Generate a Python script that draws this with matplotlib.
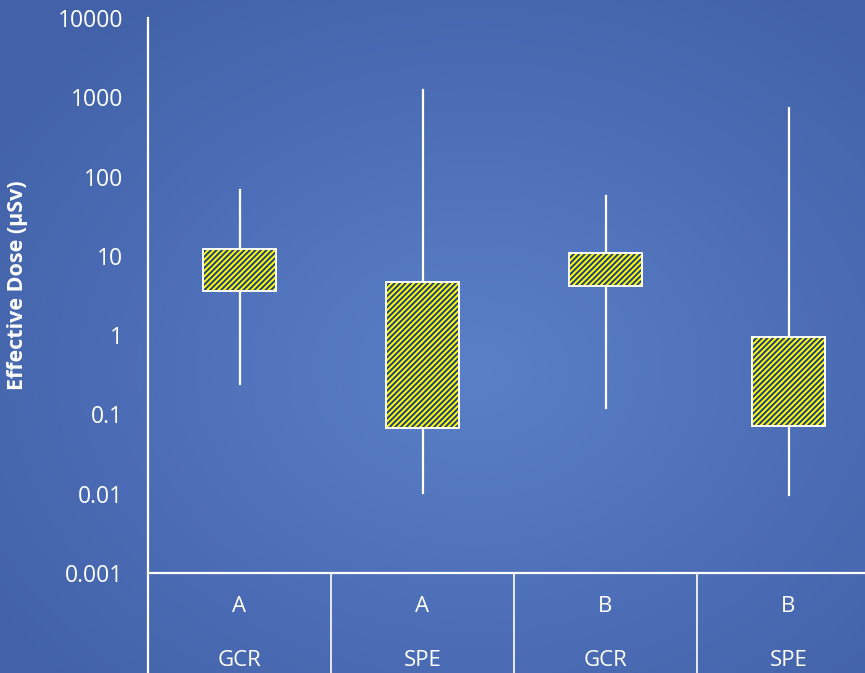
import numpy as np
import matplotlib.pyplot as plt

# data
groups = ['A', 'A', 'B', 'B']
sources = ['GCR', 'SPE', 'GCR', 'SPE']
whisker_low = [0.24, 0.0102, 0.121, 0.0097]
box_low = [3.6, 0.068, 4.17, 0.0716]
box_high = [12.2, 4.7, 10.9, 0.95]
whisker_high = [67.8, 1235, 57, 733]

plt.rcParams['font.family'] = ['Open Sans', 'DejaVu Sans']
plt.rcParams['hatch.linewidth'] = 1.4

W, H = 865, 673
fig = plt.figure(figsize=(W / 100, H / 100), dpi=100)

# radial gradient background
bg = fig.add_axes([0, 0, 1, 1], zorder=-10)
yy, xx = np.mgrid[0:1:H * 1j, 0:1:W * 1j]
r = np.sqrt(((xx - 0.55) / 0.9) ** 2 + ((yy - 0.55) / 0.9) ** 2)
r = np.clip(r / 0.75, 0, 1)
c_in = np.array([0x5b, 0x80, 0xc8]) / 255
c_out = np.array([0x42, 0x61, 0xa9]) / 255
img = c_in[None, None, :] * (1 - r[..., None]) + c_out[None, None, :] * r[..., None]
bg.imshow(img, aspect='auto', extent=[0, 1, 0, 1])
bg.axis('off')

left = 148 / W
right = 880 / W
bottom = (H - 573) / H
top = (H - 18) / H
ax = fig.add_axes([left, bottom, right - left, top - bottom])
ax.set_facecolor('none')
ax.set_yscale('log')
ax.set_ylim(0.001, 10000)
ax.set_xlim(-0.5, 3.5)

x = np.arange(len(groups))
for i in x:
    ax.plot([i, i], [whisker_low[i], whisker_high[i]], color='white', lw=1.6, zorder=1)
ax.bar(x, np.array(box_high) - np.array(box_low), bottom=box_low, width=0.4,
       color='#ffff00', edgecolor='#1f3d86', hatch='//////', linewidth=0, zorder=2)
ax.bar(x, np.array(box_high) - np.array(box_low), bottom=box_low, width=0.4,
       fill=False, edgecolor='white', linewidth=1.4, zorder=3)

ax.set_yticks([0.001, 0.01, 0.1, 1, 10, 100, 1000, 10000])
ax.set_yticklabels(['0.001', '0.01', '0.1', '1', '10', '100', '1000', '10000'])
ax.yaxis.set_minor_locator(plt.NullLocator())
ax.tick_params(axis='y', colors='white', labelsize=16.5, length=0, pad=18)
ax.set_xticks([])
for s in ['top', 'right', 'bottom', 'left']:
    ax.spines[s].set_visible(False)

ax.set_ylabel('Effective Dose (µSv)', color='white', fontsize=15.5, fontweight='bold')
ax.yaxis.set_label_coords(-0.164, 0.518)

# category table below the axis
tr = ax.get_xaxis_transform()
ybot = -100 / 555
ax.plot([-0.5, 3.5], [0, 0], transform=tr, color='white', lw=1.6, clip_on=False)
ax.plot([-0.5, -0.5], [ybot, 1], transform=tr, color='white', lw=1.6, clip_on=False)
for b in [0.5, 1.5, 2.5]:
    ax.plot([b, b], [ybot, 0], transform=tr, color='white', lw=1.2, clip_on=False)
for i in x:
    ax.text(i, -34 / 555, groups[i], transform=tr, ha='center', va='center',
            color='white', fontsize=16)
    ax.text(i, -87 / 555, sources[i], transform=tr, ha='center', va='center',
            color='white', fontsize=16)

fig.savefig('out.png', dpi=100)
